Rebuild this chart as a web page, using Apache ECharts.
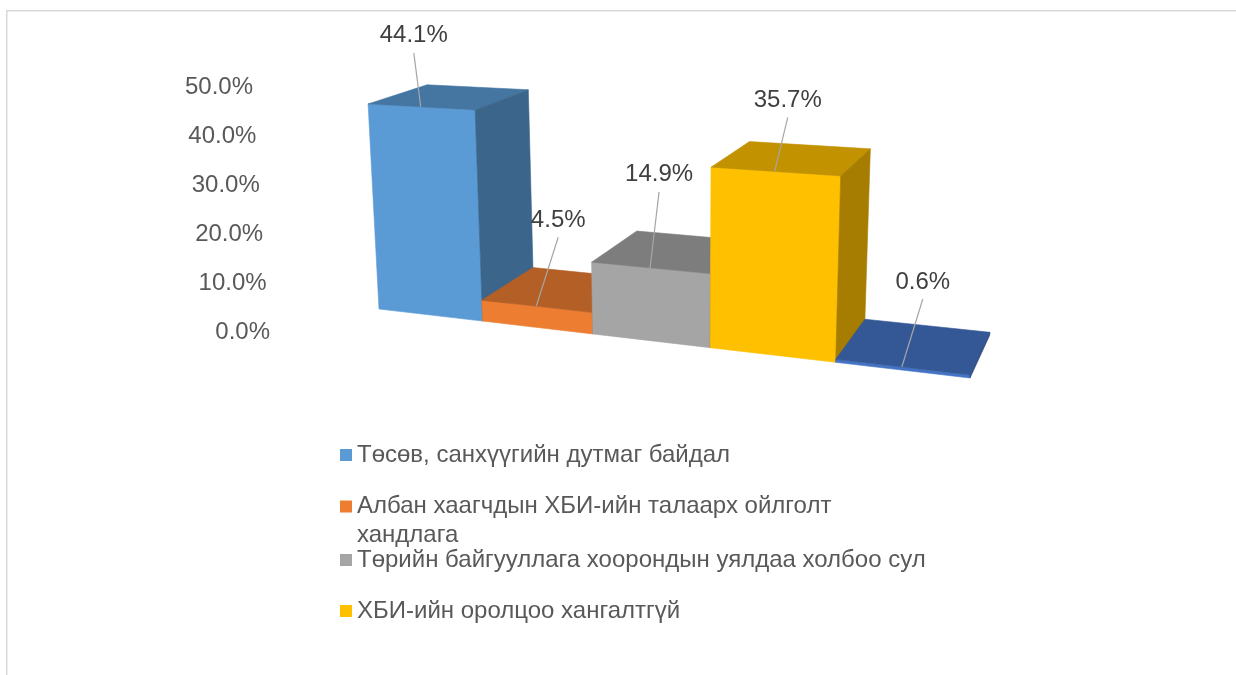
<!DOCTYPE html>
<html>
<head>
<meta charset="utf-8">
<script src="https://cdn.jsdelivr.net/npm/echarts@6/dist/echarts.min.js"></script>
<style>
  html, body { margin: 0; padding: 0; background: #fff; }
  #chart { width: 1236px; height: 675px; }
</style>
</head>
<body>
<div id="chart"></div>
<script>
const seriesNames = [
  'Төсөв, санхүүгийн дутмаг байдал',
  'Албан хаагчдын ХБИ-ийн талаарх ойлголт хандлага',
  'Төрийн байгууллага хоорондын уялдаа холбоо сул',
  'ХБИ-ийн оролцоо хангалтгүй',
  'Бусад'
]
const values = [44.1, 4.5, 14.9, 35.7, 0.6]
const yTicks = [0, 10, 20, 30, 40, 50]
const colors = ['#5B9BD5', '#ED7D31', '#A5A5A5', '#FFC000', '#4472C4']

// label nudges (px) from the front-top edge of each box, like dragged excel labels
const labelNudge = [[-7, -71], [22, -86], [9, -93], [13, -71], [21, -85]]
// legend rows (the fifth entry is cut off in the source)
const legendTop = [440.75, 463.75, 545.75, 596.75]

const FONT = "'Liberation Sans', Arial, sans-serif"
const FS = 24

// simple 3 point perspective, vanishing points relative to the grid origin
const cam = {
  lift: 23,
  kx: -2.544e-4, // per px along categories
  ky: -1.603e-4, // per px of value
  kz: 0.0716,    // per unit depth
  vx: [-3340, -413],
  vy: [304, 5692],
  vz: [844, -505],
}

function project(sys, px, py, z) {
  const gx = sys.x
  const gy = sys.y + sys.height
  const a = cam.kx * (px - gx)
  const b = cam.ky * (gy - py)
  const c = cam.kz * z
  const w = 1 + a + b + c
  return [
    gx + (a * cam.vx[0] + b * cam.vy[0] + c * cam.vz[0]) / w,
    gy + (a * cam.vx[1] + b * cam.vy[1] + c * cam.vz[1] - cam.lift) / w,
  ]
}

function shade(hex, k) {
  const n = parseInt(hex.slice(1), 16)
  const r = Math.round(((n >> 16) & 255) * k)
  const g = Math.round(((n >> 8) & 255) * k)
  const b = Math.round((n & 255) * k)
  return `rgb(${r},${g},${b})`
}

function face(points, color) {
  return {
    type: 'polygon',
    shape: { points },
    style: { fill: color, stroke: color, lineWidth: 0.6 },
  }
}

const renderBox = (params, api) => {
  const i = api.value(0)
  const v = api.value(1)
  const base = api.coord([i, 0])
  const topPt = api.coord([i, v])
  const bw = api.size([1, 0])[0]
  const l = base[0] - bw / 2
  const r = base[0] + bw / 2
  const y0 = base[1]
  const y1 = topPt[1]
  const sys = params.coordSys
  const P = (x, y, z) => project(sys, x, y, z)
  const col = colors[i]

  const anchor = P(base[0], y1, 0)
  const nudge = labelNudge[i]
  const lx = anchor[0] + nudge[0]
  const ly = anchor[1] + nudge[1]

  return {
    type: 'group',
    children: [
      face([P(l, y0, 0), P(r, y0, 0), P(r, y1, 0), P(l, y1, 0)], col),
      face([P(l, y1, 0), P(r, y1, 0), P(r, y1, 1), P(l, y1, 1)], shade(col, 0.76)),
      face([P(r, y0, 0), P(r, y1, 0), P(r, y1, 1), P(r, y0, 1)], shade(col, 0.65)),
      {
        type: 'line',
        shape: { x1: lx, y1: ly + 17, x2: anchor[0], y2: anchor[1] },
        style: { stroke: '#a6a6a6', lineWidth: 1.2 },
      },
      {
        type: 'text',
        x: lx,
        y: ly,
        style: {
          text: v.toFixed(1) + '%',
          fill: '#404040',
          font: `${FS}px ${FONT}`,
          align: 'center',
          verticalAlign: 'middle',
        },
      },
    ],
  }
}

const rich = {}
yTicks.forEach((t) => {
  rich['s' + t] = {
    fontSize: FS,
    fontFamily: FONT,
    color: '#595959',
    padding: [0, t * 0.34, 0, 0], // excel skews the axis labels
  }
})

// excel keeps the icon on the first line of a wrapped entry
const wrapLegend = (n) => (n.indexOf(' ойлголт хандлага') > -1
  ? '\n' + n.replace(' ойлголт хандлага', ' ойлголт\nхандлага')
  : n)

const chart = echarts.init(document.getElementById('chart'))

const options = {
  animation: false,
  backgroundColor: '#ffffff',
  graphic: [{
    type: 'rect',
    shape: { x: 6.75, y: 10.75, width: 1300, height: 700 },
    style: { fill: 'none', stroke: '#d9d9d9', lineWidth: 1.5 },
    silent: true,
  }],
  grid: {
    left: 379,
    top: 87,
    width: 591,
    height: 245,
    containLabel: false,
  },
  legend: seriesNames.slice(0, 4).map((name, i) => ({
    orient: 'vertical',
    left: 340,
    top: legendTop[i],
    padding: 0,
    itemWidth: 12,
    itemHeight: 12,
    icon: 'rect',
    data: [name],
    formatter: wrapLegend,
    textStyle: {
      fontSize: FS,
      fontFamily: FONT,
      color: '#595959',
      lineHeight: 28.5,
    },
  })),
  xAxis: {
    type: 'category',
    data: seriesNames,
    show: false,
  },
  yAxis: {
    type: 'value',
    min: 0,
    max: 50,
    interval: 10,
    axisLine: { show: false },
    axisTick: { show: false },
    splitLine: { show: false },
    axisLabel: {
      margin: 109,
      formatter: (v) => `{s${v}|${v.toFixed(1)}%}`,
      rich,
    },
  },
  series: seriesNames.map((name, i) => ({
    name,
    type: 'custom',
    renderItem: renderBox,
    itemStyle: { color: colors[i] },
    encode: { x: 0, y: 1 },
    data: [[i, values[i]]],
  })),
}

chart.setOption(options, true)
</script>
</body>
</html>
